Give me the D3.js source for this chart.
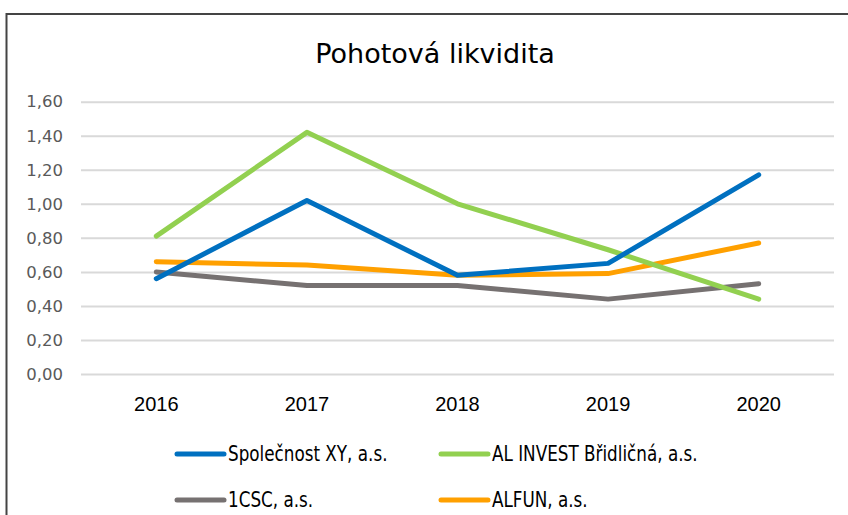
<!DOCTYPE html>
<html>
<head>
<meta charset="utf-8">
<script src="https://cdn.jsdelivr.net/npm/d3@7"></script>
<style>
  body { margin: 0; background: #fff; }
  svg { display: block; }
</style>
</head>
<body>
<div id="chart"></div>
<script>
'use strict';

const chartTitle = 'Pohotová likvidita';
const years = ['2016', '2017', '2018', '2019', '2020'];
const yTicks = [0, 0.2, 0.4, 0.6, 0.8, 1.0, 1.2, 1.4, 1.6];

const seriesNames = ['Společnost XY, a.s.', 'AL INVEST Břidličná, a.s.', '1CSC, a.s.', 'ALFUN, a.s.'];
const spolecnostXY = [0.56, 1.02, 0.58, 0.65, 1.17];
const alInvest = [0.81, 1.42, 1.00, 0.73, 0.44];
const csc = [0.60, 0.52, 0.52, 0.44, 0.53];
const alfun = [0.66, 0.64, 0.58, 0.59, 0.77];

const colours = ['#0070c0', '#92d050', '#767171', '#ffa000'];

function makeLineChart(containerSelector) {
  var width = 848;
  var height = 515;
  var margin = {top: 101.7, right: 14, bottom: 141, left: 81};
  var innerW = width - margin.left - margin.right;
  var innerH = height - margin.top - margin.bottom;

  var svg = d3.select(containerSelector)
              .append('svg')
              .attr('width', width)
              .attr('height', height);

  // chart frame
  svg.append('rect')
     .attr('x', 6.5)
     .attr('y', 14)
     .attr('width', 860)
     .attr('height', 520)
     .attr('fill', 'none')
     .attr('stroke', '#444')
     .attr('stroke-width', 2);

  svg.append('text')
     .attr('x', 435)
     .attr('y', 63)
     .attr('text-anchor', 'middle')
     .style('font-family', 'DejaVu Sans')
     .style('font-size', '27px')
     .attr('fill', '#000')
     .text(chartTitle);

  var g = svg.append('g')
             .attr('transform', 'translate(' + margin.left + ',' + margin.top + ')');

  var x = d3.scaleBand().domain(years).range([0, innerW]).padding(0);
  var y = d3.scaleLinear().domain([0, 1.6]).range([innerH, 0]);

  var fmt = function(d) { return d3.format('.2f')(d).replace('.', ','); };

  var yAxis = d3.axisLeft(y)
                .tickValues(yTicks)
                .tickSize(-innerW)
                .tickPadding(18)
                .tickFormat(fmt);

  var ya = g.append('g')
            .attr('class', 'axis axis--y')
            .call(yAxis);
  ya.select('.domain').remove();
  ya.selectAll('line')
    .attr('stroke', '#d9d9d9')
    .attr('stroke-width', 2);
  ya.selectAll('text')
    .attr('fill', '#595959')
    .style('font-family', 'DejaVu Sans')
    .style('font-size', '16.5px');

  var xAxis = d3.axisBottom(x).tickSize(0).tickPadding(23);
  var xa = g.append('g')
            .attr('class', 'axis axis--x')
            .attr('transform', 'translate(0,' + innerH + ')')
            .call(xAxis);
  xa.select('.domain').remove();
  xa.selectAll('text')
    .attr('fill', '#000')
    .style('font-family', 'Liberation Sans, Arial')
    .style('font-size', '20px');

  var dataset = [spolecnostXY, alInvest, csc, alfun];

  var line = d3.line()
               .x(function(d, i) { return x(years[i]) + x.bandwidth() / 2; })
               .y(function(d) { return y(d); });

  // gray and orange first, so blue and green sit on top
  var order = [2, 3, 1, 0];
  order.forEach(function(k) {
    g.append('path')
     .datum(dataset[k])
     .attr('d', line)
     .attr('fill', 'none')
     .attr('stroke', colours[k])
     .attr('stroke-width', 5)
     .attr('stroke-linejoin', 'round')
     .attr('stroke-linecap', 'round');
  });

  // legend, 2 columns x 2 rows
  var legend = svg.selectAll('.legend')
                  .data(seriesNames)
                  .enter().append('g')
                    .attr('class', 'legend')
                    .attr('transform', function(d, i) {
                      return 'translate(' + (i % 2 === 0 ? 177 : 441) + ',' + (i < 2 ? 454 : 500) + ')';
                    });

  legend.append('line')
        .attr('x1', 0)
        .attr('x2', 47)
        .attr('stroke', function(d, i) { return colours[i]; })
        .attr('stroke-width', 5)
        .attr('stroke-linecap', 'round');

  // narrow type, like the squeezed legend in the original
  legend.append('text')
        .attr('transform', 'translate(51,0) scale(0.8,1)')
        .attr('dy', '0.35em')
        .style('font-family', 'DejaVu Sans')
        .style('font-size', '21px')
        .attr('fill', '#000')
        .text(function(d) { return d; });
}

makeLineChart('#chart');
</script>
</body>
</html>
